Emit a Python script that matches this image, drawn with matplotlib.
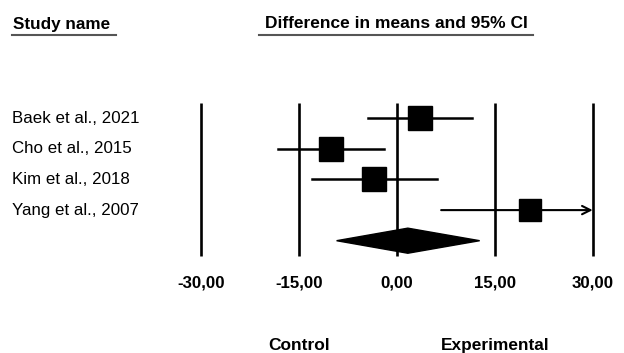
import numpy as np
import matplotlib.pyplot as plt
from matplotlib.lines import Line2D
import matplotlib.transforms as mtransforms

plt.rcParams['font.family'] = ['Liberation Sans', 'DejaVu Sans']

# forest plot data (difference in means, 95% CI)
studies = ["Baek et al., 2021", "Cho et al., 2015", "Kim et al., 2018", "Yang et al., 2007"]
est = [3.6, -10.1, -3.4, 20.4]
lower = [-4.4, -18.2, -13.0, 6.8]
upper = [11.6, -1.9, 6.1, 34.0]
weights = [27.0, 27.0, 25.0, 21.0]

pooled_est = 1.7
pooled_lower = -9.2
pooled_upper = 12.7

ticks = [-30, -15, 0, 15, 30]
tick_labels = ["-30,00", "-15,00", "0,00", "15,00", "30,00"]

W, H = 624, 353
fig = plt.figure(figsize=(W / 100, H / 100), dpi=100)
ax = fig.add_axes([200.7 / W, (H - 256) / H, 392 / W, 153 / H])
ax.set_xlim(-30, 30)
ax.set_ylim(4.5, -0.5)
for s in ax.spines.values():
    s.set_visible(False)
ax.set_yticks([])
ax.set_xticks(ticks)
ax.set_xticklabels(tick_labels, fontsize=12.2, fontweight='bold')
ax.tick_params(axis='x', length=0, pad=14)

# reference lines
ax.vlines(ticks, -0.5, 4.5, color='black', lw=1.9, clip_on=False)

# studies
for i in range(len(studies)):
    ms = 17.3 * np.sqrt(weights[i] / 27.0)
    if upper[i] > 30:
        ax.annotate('', xy=(30, i), xytext=(lower[i], i),
                    arrowprops=dict(arrowstyle='->', lw=1.5, color='black',
                                    shrinkA=0, shrinkB=0, mutation_scale=15))
    else:
        ax.plot([lower[i], upper[i]], [i, i], color='black', lw=1.8)
    ax.plot(est[i], i, marker='s', color='black', markersize=ms, zorder=3)

# pooled diamond
yd = len(studies)
ax.fill([pooled_lower, pooled_est, pooled_upper, pooled_est],
        [yd, yd - 0.41, yd, yd + 0.41], color='black', zorder=3)

# study names
trans = mtransforms.blended_transform_factory(fig.transFigure, ax.transData)
for i, name in enumerate(studies):
    ax.text(12 / W, i, name, transform=trans, ha='left', va='center', fontsize=12.2)

# headers
trans2 = mtransforms.blended_transform_factory(ax.transData, fig.transFigure)
fig.text(12.5 / W, 1 - 28.5 / H, "Study name", ha='left', va='baseline', fontsize=12.3, fontweight='bold')
ax.text(0, 1 - 28.5 / H, "Difference in means and 95% CI", transform=trans2, ha='center',
        va='baseline', fontsize=12.5, fontweight='bold')
fig.add_artist(Line2D([12 / W, 116 / W], [1 - 35 / H] * 2, color='#555555', lw=1.5))
fig.add_artist(Line2D([259 / W, 533 / W], [1 - 35 / H] * 2, color='#555555', lw=1.5))

# direction labels
ax.text(-15, 1 - 350 / H, "Control", transform=trans2, ha='center', va='baseline',
        fontsize=12.5, fontweight='bold')
ax.text(15, 1 - 350 / H, "Experimental", transform=trans2, ha='center', va='baseline',
        fontsize=12.4, fontweight='bold')

fig.savefig('out.png', dpi=100)
